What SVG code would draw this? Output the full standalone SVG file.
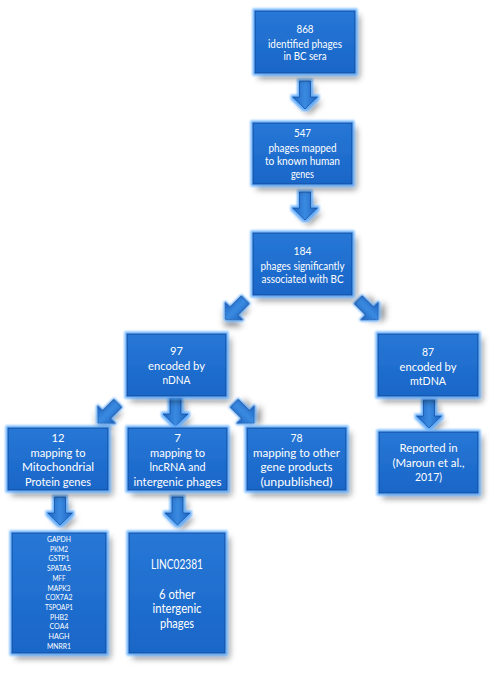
<svg xmlns="http://www.w3.org/2000/svg" width="498" height="673" viewBox="0 0 498 673">
<defs>
<linearGradient id="bf" x1="0" y1="0" x2="0" y2="1">
<stop offset="0" stop-color="#2777d6"/>
<stop offset="1" stop-color="#1966c8"/>
</linearGradient>
<linearGradient id="af" x1="0" y1="0" x2="1" y2="0">
<stop offset="0" stop-color="#1c64c4"/>
<stop offset="0.5" stop-color="#3a8ae0"/>
<stop offset="1" stop-color="#1c64c4"/>
</linearGradient>
<filter id="sh" x="-25%" y="-25%" width="160%" height="160%">
<feGaussianBlur in="SourceAlpha" stdDeviation="3" result="b"/>
<feOffset in="b" dx="4" dy="5" result="o"/>
<feFlood flood-color="#000" flood-opacity="0.45"/>
<feComposite in2="o" operator="in" result="shadow"/>
<feMorphology in="SourceAlpha" operator="dilate" radius="1.5" result="d"/>
<feGaussianBlur in="d" stdDeviation="1.2" result="db"/>
<feFlood flood-color="#5aaaff" flood-opacity="0.9"/>
<feComposite in2="db" operator="in" result="glow"/>
<feMerge><feMergeNode in="shadow"/><feMergeNode in="glow"/><feMergeNode in="SourceGraphic"/></feMerge>
</filter>
<path id="arr" d="M-5.5,-28 H5.5 V-12 H12.5 L0,0 L-12.5,-12 H-5.5 Z"/>
</defs>
<style>
.box{fill:url(#bf);stroke:#0f4c9c;stroke-width:1;filter:url(#sh)}
.ar{fill:url(#af);stroke:#0f4c9c;stroke-width:0.8;filter:url(#sh)}
text{font-family:Lato,"Open Sans","Liberation Sans",sans-serif;fill:#fff;font-size:11.5px;text-anchor:middle}
.g{font-size:7.5px}
.l{font-size:12.5px}
</style>
<g id="connectors">
<use href="#arr" class="ar" transform="translate(305,109)"/>
<use href="#arr" class="ar" transform="translate(305,220)"/>
<use href="#arr" class="ar" transform="translate(225.5,319.5) rotate(45)"/>
<use href="#arr" class="ar" transform="translate(378,319.5) rotate(-45)"/>
<use href="#arr" class="ar" transform="translate(98,423) rotate(45)"/>
<use href="#arr" class="ar" transform="translate(175.5,426)"/>
<use href="#arr" class="ar" transform="translate(254,423) rotate(-45)"/>
<use href="#arr" class="ar" transform="translate(429,428)"/>
<use href="#arr" class="ar" transform="translate(60,525)"/>
<use href="#arr" class="ar" transform="translate(177.5,525)"/>
</g>
<g id="n868">
<rect class="box" x="255" y="11" width="100" height="62"/>
<text x="305" y="33" textLength="17" lengthAdjust="spacingAndGlyphs">868</text>
<text x="305" y="48" textLength="74" lengthAdjust="spacingAndGlyphs">identified phages</text>
<text x="305" y="60" textLength="43" lengthAdjust="spacingAndGlyphs">in BC sera</text>
</g>
<g id="n547">
<rect class="box" x="253" y="123" width="99" height="61"/>
<text x="302.5" y="137" textLength="17" lengthAdjust="spacingAndGlyphs">547</text>
<text x="302.5" y="152" textLength="68" lengthAdjust="spacingAndGlyphs">phages mapped</text>
<text x="302.5" y="165" textLength="75" lengthAdjust="spacingAndGlyphs">to known human</text>
<text x="302.5" y="178" textLength="23" lengthAdjust="spacingAndGlyphs">genes</text>
</g>
<g id="n184">
<rect class="box" x="253" y="233" width="99" height="62"/>
<text x="302.5" y="255" textLength="18" lengthAdjust="spacingAndGlyphs">184</text>
<text x="302.5" y="270" textLength="84" lengthAdjust="spacingAndGlyphs">phages significantly</text>
<text x="302.5" y="283" textLength="82" lengthAdjust="spacingAndGlyphs">associated with BC</text>
</g>
<g id="n97">
<rect class="box" x="127" y="334" width="99" height="62"/>
<text x="176.5" y="355" textLength="13" lengthAdjust="spacingAndGlyphs">97</text>
<text x="176.5" y="370" textLength="57" lengthAdjust="spacingAndGlyphs">encoded by</text>
<text x="176.5" y="384" textLength="28" lengthAdjust="spacingAndGlyphs">nDNA</text>
</g>
<g id="n87">
<rect class="box" x="378" y="334" width="100" height="62"/>
<text x="428" y="356" textLength="12" lengthAdjust="spacingAndGlyphs">87</text>
<text x="428" y="371" textLength="57" lengthAdjust="spacingAndGlyphs">encoded by</text>
<text x="428" y="385" textLength="36" lengthAdjust="spacingAndGlyphs">mtDNA</text>
</g>
<g id="n12">
<rect class="box" x="8" y="428" width="100" height="62"/>
<text x="58" y="442" textLength="13" lengthAdjust="spacingAndGlyphs">12</text>
<text x="58" y="457" textLength="55" lengthAdjust="spacingAndGlyphs">mapping to</text>
<text x="58" y="471" textLength="72" lengthAdjust="spacingAndGlyphs">Mitochondrial</text>
<text x="58" y="486" textLength="66" lengthAdjust="spacingAndGlyphs">Protein genes</text>
</g>
<g id="n7">
<rect class="box" x="128" y="428" width="99" height="62"/>
<text x="177.5" y="442">7</text>
<text x="177.5" y="457" textLength="55" lengthAdjust="spacingAndGlyphs">mapping to</text>
<text x="177.5" y="471" textLength="56" lengthAdjust="spacingAndGlyphs">lncRNA and</text>
<text x="177.5" y="486" textLength="88" lengthAdjust="spacingAndGlyphs">intergenic phages</text>
</g>
<g id="n78">
<rect class="box" x="247" y="428" width="99" height="62"/>
<text x="296.5" y="442" textLength="12" lengthAdjust="spacingAndGlyphs">78</text>
<text x="296.5" y="457" textLength="87" lengthAdjust="spacingAndGlyphs">mapping to other</text>
<text x="296.5" y="471" textLength="72" lengthAdjust="spacingAndGlyphs">gene products</text>
<text x="296.5" y="486" textLength="72" lengthAdjust="spacingAndGlyphs">(unpublished)</text>
</g>
<g id="nReported">
<rect class="box" x="379" y="432" width="99" height="61"/>
<text x="428.5" y="452" textLength="58" lengthAdjust="spacingAndGlyphs">Reported in</text>
<text x="428.5" y="467" textLength="72" lengthAdjust="spacingAndGlyphs">(Maroun et al.,</text>
<text x="428.5" y="481" textLength="27" lengthAdjust="spacingAndGlyphs">2017)</text>
</g>
<g id="nGenes">
<rect class="box" x="12" y="533" width="94" height="120"/>
<text class="g" x="59" y="542" textLength="24" lengthAdjust="spacingAndGlyphs">GAPDH</text>
<text class="g" x="59" y="551.7" textLength="18" lengthAdjust="spacingAndGlyphs">PKM2</text>
<text class="g" x="59" y="561.4" textLength="21" lengthAdjust="spacingAndGlyphs">GSTP1</text>
<text class="g" x="59" y="571.1" textLength="24" lengthAdjust="spacingAndGlyphs">SPATA5</text>
<text class="g" x="59" y="580.8" textLength="13" lengthAdjust="spacingAndGlyphs">MFF</text>
<text class="g" x="59" y="590.5" textLength="23" lengthAdjust="spacingAndGlyphs">MAPK3</text>
<text class="g" x="59" y="600.2" textLength="27" lengthAdjust="spacingAndGlyphs">COX7A2</text>
<text class="g" x="59" y="609.9" textLength="28" lengthAdjust="spacingAndGlyphs">TSPOAP1</text>
<text class="g" x="59" y="619.6" textLength="18" lengthAdjust="spacingAndGlyphs">PHB2</text>
<text class="g" x="59" y="629.3" textLength="19" lengthAdjust="spacingAndGlyphs">COA4</text>
<text class="g" x="59" y="639" textLength="21" lengthAdjust="spacingAndGlyphs">HAGH</text>
<text class="g" x="59" y="648.7" textLength="24" lengthAdjust="spacingAndGlyphs">MNRR1</text>
</g>
<g id="nLINC">
<rect class="box" x="129" y="533" width="96" height="120"/>
<text class="l" x="177" y="568.5" textLength="52" lengthAdjust="spacingAndGlyphs">LINC02381</text>
<text class="l" x="177" y="598.5" textLength="36" lengthAdjust="spacingAndGlyphs">6 other</text>
<text class="l" x="177" y="613" textLength="49" lengthAdjust="spacingAndGlyphs">intergenic</text>
<text class="l" x="177" y="627.5" textLength="34" lengthAdjust="spacingAndGlyphs">phages</text>
</g>
</svg>
